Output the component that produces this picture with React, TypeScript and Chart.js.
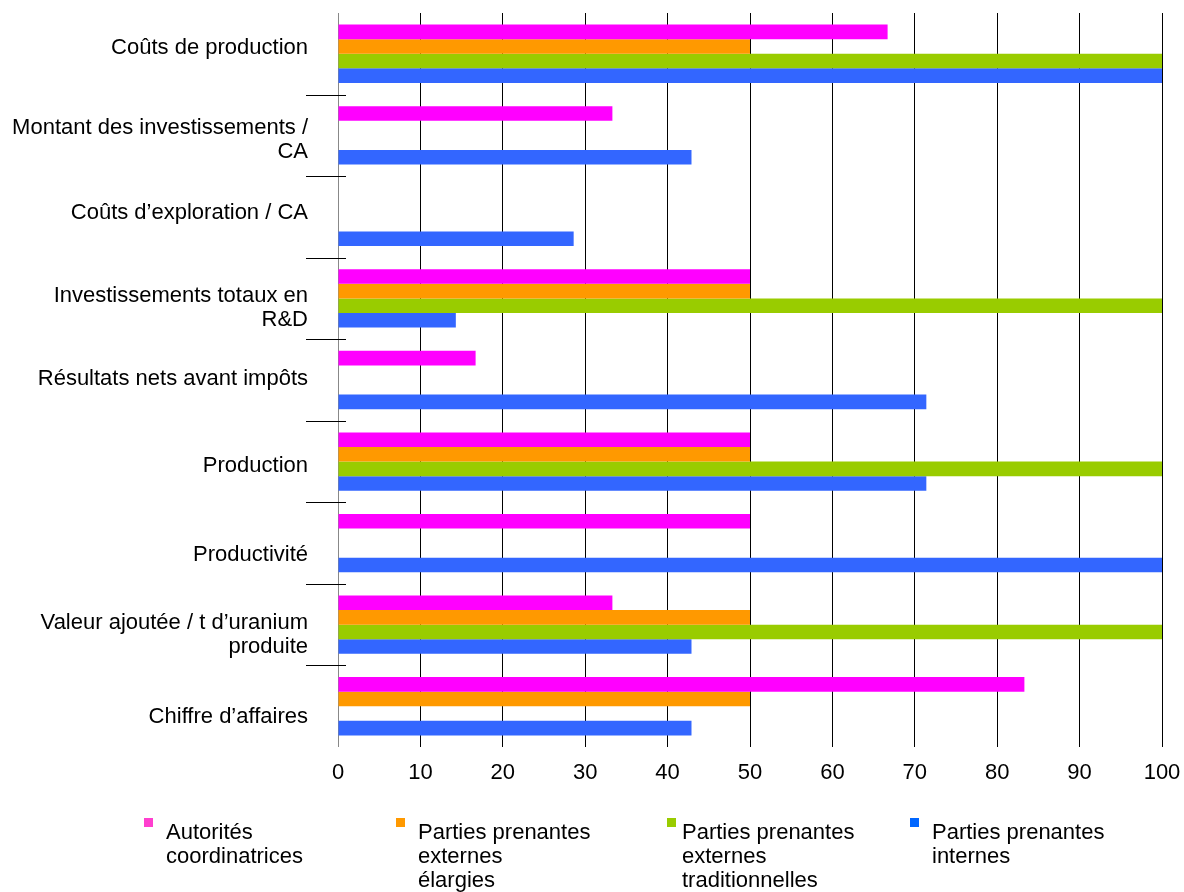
import React, { useEffect, useRef } from "react";
import { Chart, registerables } from "chart.js";

Chart.register(...registerables);

const categories: (string | string[])[] = [
  "Coûts de production",
  ["Montant des investissements /", "CA"],
  "Coûts d’exploration / CA",
  ["Investissements totaux en", "R&D"],
  "Résultats nets avant impôts",
  "Production",
  "Productivité",
  ["Valeur ajoutée / t d’uranium", "produite"],
  "Chiffre d’affaires",
];

const autorites = [66.7, 33.3, null, 50, 16.7, 50, 50, 33.3, 83.3];
const externesElargies = [50, null, null, 50, null, 50, null, 50, 50];
const externesTraditionnelles = [100, null, null, 100, null, 100, null, 100, null];
const internes = [100, 42.9, 28.6, 14.3, 71.4, 71.4, 100, 42.9, 42.9];

const seriesNames = [
  ["Autorités", "coordinatrices"],
  ["Parties prenantes", "externes", "élargies"],
  ["Parties prenantes", "externes", "traditionnelles"],
  ["Parties prenantes", "internes"],
];
const barColors = ["#ff00ff", "#ff9900", "#99cc00", "#3366ff"];
const legendColors = ["#ff3fcf", "#ff9900", "#99cc00", "#0066ff"];

const xTicks = [0, 10, 20, 30, 40, 50, 60, 70, 80, 90, 100];

const FONT = "'Liberation Sans', Arial, sans-serif";

// small vertical nudges of the category labels, as placed in the original
const labelNudge = [-8, 3, -6, 8, -3, 3, 10, 8, 9];

const boundaryPlugin = {
  id: "boundaryTicks",
  afterDraw(chart: any) {
    const ctx = chart.ctx;
    const { top, bottom, left } = chart.chartArea;
    const n = categories.length;
    const step = (bottom - top) / n;
    ctx.save();
    ctx.strokeStyle = "#000";
    ctx.lineWidth = 1;
    for (let i = 1; i < n; i++) {
      const y = Math.round(top + i * step) + 0.5;
      ctx.beginPath();
      ctx.moveTo(left - 32, y);
      ctx.lineTo(left + 8, y);
      ctx.stroke();
    }
    ctx.restore();
  },
};

const categoryLabelPlugin = {
  id: "categoryLabels",
  afterDraw(chart: any) {
    const ctx = chart.ctx;
    const yScale = chart.scales.y;
    const xRight = chart.chartArea.left - 30;
    ctx.save();
    ctx.font = `22px ${FONT}`;
    ctx.fillStyle = "#000";
    ctx.textAlign = "right";
    ctx.textBaseline = "alphabetic";
    categories.forEach((lab, i) => {
      const lines = Array.isArray(lab) ? lab : [lab];
      const c = yScale.getPixelForValue(i) + labelNudge[i];
      lines.forEach((ln, j) => {
        const mid = c + (j - (lines.length - 1) / 2) * 24;
        ctx.fillText(ln, xRight, mid + 7.9);
      });
    });
    ctx.restore();
  },
};

const legendPlugin = {
  id: "customLegend",
  afterDraw(chart: any) {
    const ctx = chart.ctx;
    const markerX = [144, 396, 667, 910];
    const textX = [166, 418, 682, 932];
    ctx.save();
    ctx.font = `22px ${FONT}`;
    ctx.textBaseline = "alphabetic";
    ctx.textAlign = "left";
    seriesNames.forEach((lines, i) => {
      ctx.fillStyle = legendColors[i];
      ctx.fillRect(markerX[i], 818, 9, 9);
      ctx.fillStyle = "#000";
      lines.forEach((ln, j) => {
        ctx.fillText(ln, textX[i], 839 + j * 24);
      });
    });
    ctx.restore();
  },
};

export default function App() {
  const ref = useRef<HTMLCanvasElement>(null);
  useEffect(() => {
    if (!ref.current) return;
    const names = ["Autorités coordinatrices", "Parties prenantes externes élargies", "Parties prenantes externes traditionnelles", "Parties prenantes internes"];
    const values = [autorites, externesElargies, externesTraditionnelles, internes];
    const chart = new Chart(ref.current, {
      type: "bar",
      data: {
        labels: categories,
        datasets: values.map((v, i) => ({
          label: names[i],
          data: v,
          backgroundColor: barColors[i],
          borderWidth: 0,
          categoryPercentage: 0.715,
          barPercentage: 1.0,
        })),
      },
      plugins: [boundaryPlugin, categoryLabelPlugin, legendPlugin],
      options: {
        indexAxis: "y",
        responsive: false,
        animation: false,
        layout: { padding: { top: 13, right: 22, left: 0, bottom: 0 } },
        plugins: { legend: { display: false }, tooltip: { enabled: false } },
        scales: {
          x: {
            min: 0,
            max: 100,
            afterBuildTicks: (s: any) => {
              s.ticks = xTicks.map((v) => ({ value: v }));
            },
            afterFit: (s: any) => {
              s.height = 145;
              s.paddingLeft = 0;
              s.paddingRight = 0;
            },
            border: { display: false },
            grid: {
              color: (c: any) => (c.index === 0 ? "#888888" : "#000000"),
              lineWidth: 1,
              drawTicks: false,
            },
            ticks: {
              color: "#000",
              padding: 14,
              font: { family: FONT, size: 22, lineHeight: 1.09 },
              maxRotation: 0,
            },
          },
          y: {
            afterFit: (s: any) => {
              s.width = 338;
              s.paddingTop = 0;
              s.paddingBottom = 0;
            },
            border: { display: false },
            grid: { display: false },
            ticks: {
              display: false,
              autoSkip: false,
            },
          },
        },
      },
    });
    return () => chart.destroy();
  }, []);
  return (
    <canvas
      ref={ref}
      width={1184}
      height={892}
      style={{ position: "absolute", left: 0, top: 0, display: "block", width: 1184, height: 892 }}
    />
  );
}
